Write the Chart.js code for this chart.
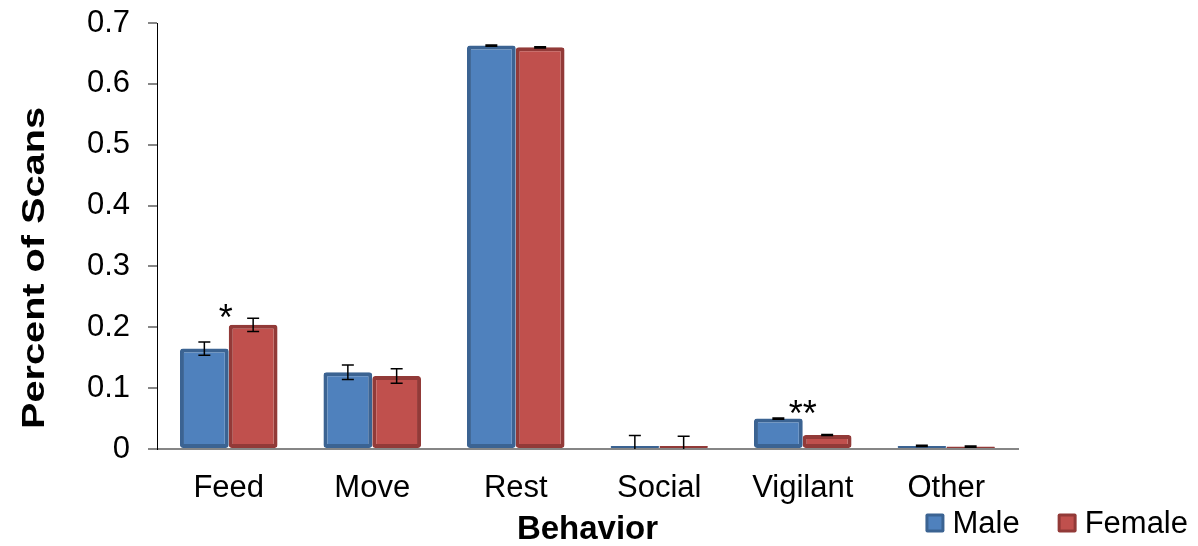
<!DOCTYPE html>
<html>
<head>
<meta charset="utf-8">
<script src="https://cdn.jsdelivr.net/npm/chart.js@4.4.1/dist/chart.umd.min.js"></script>
<style>
  html, body { margin: 0; padding: 0; background: #ffffff; }
  #wrap { width: 1198px; height: 546px; position: relative; }
</style>
</head>
<body>
<div id="wrap"><canvas id="c" width="1198" height="546"></canvas></div>
<script>
// ---- Data ----
const categories = ['Feed', 'Move', 'Rest', 'Social', 'Vigilant', 'Other'];
const seriesNames = ['Male', 'Female'];
const maleValues = [0.165, 0.126, 0.663, 0.005, 0.050, 0.005];
const femaleValues = [0.204, 0.120, 0.660, 0.005, 0.023, 0.004];
const maleErrors = [0.011, 0.012, 0.001, 0.017, 0.001, 0.001];
const femaleErrors = [0.011, 0.012, 0.001, 0.016, 0.001, 0.001];
const significance = ['*', '', '', '', '**', ''];
const yTicks = [0, 0.1, 0.2, 0.3, 0.4, 0.5, 0.6, 0.7];
const xTitle = 'Behavior';
const yTitle = 'Percent of Scans';

const FONT = '"Liberation Sans", Arial, sans-serif';
const fills = ['#4F81BD', '#C0504D'];
const borders = ['#3B6392', '#923A38'];
const errorSets = [maleErrors, femaleErrors];

// Error bars and significance marks drawn from the data through the library's scales
const errorBarPlugin = {
  id: 'errorBars',
  afterDatasetsDraw(chart) {
    const ctx = chart.ctx;
    const y = chart.scales.y;
    ctx.save();
    ctx.strokeStyle = '#000000';
    ctx.lineWidth = 1.5;
    chart.data.datasets.forEach((ds, di) => {
      const meta = chart.getDatasetMeta(di);
      meta.data.forEach((bar, i) => {
        const v = ds.data[i];
        const e = errorSets[di][i];
        const x = bar.x;
        const top = y.getPixelForValue(v + e);
        const bot = y.getPixelForValue(Math.max(v - e, 0));
        const cap = 6;
        ctx.beginPath();
        ctx.moveTo(x, top); ctx.lineTo(x, bot);
        ctx.moveTo(x - cap, top); ctx.lineTo(x + cap, top);
        if (v - e > 0) { ctx.moveTo(x - cap, bot); ctx.lineTo(x + cap, bot); }
        ctx.stroke();
      });
    });
    ctx.fillStyle = '#000000';
    ctx.font = '36px ' + FONT;
    ctx.textAlign = 'center';
    ctx.textBaseline = 'alphabetic';
    significance.forEach((s, i) => {
      if (!s) return;
      const xs = chart.scales.x.getPixelForValue(i);
      let m = 0;
      chart.data.datasets.forEach((ds, di) => { m = Math.max(m, ds.data[i] + errorSets[di][i]); });
      const py = y.getPixelForValue(m);
      ctx.fillText(s, xs - 3 + (i === 4 ? 3 : 0), py + (i === 4 ? 8 : 12));
    });
    ctx.restore();
  }
};

// Y axis title (rotated, widened like the original) and corner legend
const decorPlugin = {
  id: 'decor',
  afterDraw(chart) {
    const ctx = chart.ctx;
    const area = chart.chartArea;
    ctx.save();
    ctx.translate(35, (area.top + area.bottom) / 2 + 32);
    ctx.rotate(-Math.PI / 2);
    ctx.scale(1.24, 1);
    ctx.font = 'bold 32px ' + FONT;
    ctx.fillStyle = '#000000';
    ctx.textAlign = 'center';
    ctx.textBaseline = 'middle';
    ctx.fillText(yTitle, 0, 0);
    ctx.restore();

    ctx.save();
    ctx.font = '31px ' + FONT;
    ctx.textBaseline = 'middle';
    ctx.textAlign = 'left';
    const yc = 523;
    const box = 19;
    const gap = 8;
    const itemGap = 38;
    const widths = chart.data.datasets.map(ds => ctx.measureText(ds.label).width);
    let total = 0;
    widths.forEach((w, i) => { total += box + gap + w + (i > 0 ? itemGap : 0); });
    let x = chart.width - 10 - total;
    chart.data.datasets.forEach((ds, i) => {
      if (i > 0) x += itemGap;
      ctx.fillStyle = ds.borderColor;
      ctx.beginPath();
      ctx.roundRect(x, yc - box / 2, box, box, 2);
      ctx.fill();
      ctx.fillStyle = ds.backgroundColor;
      ctx.fillRect(x + 3, yc - box / 2 + 3, box - 6, box - 6);
      x += box + gap;
      ctx.fillStyle = '#000000';
      ctx.fillText(ds.label, x, yc + 1);
      x += widths[i];
    });
    ctx.restore();
  }
};

new Chart(document.getElementById('c'), {
  type: 'bar',
  data: {
    labels: categories,
    datasets: [
      { label: seriesNames[0], data: maleValues, backgroundColor: fills[0], borderColor: borders[0] },
      { label: seriesNames[1], data: femaleValues, backgroundColor: fills[1], borderColor: borders[1] }
    ]
  },
  options: {
    responsive: false,
    animation: false,
    devicePixelRatio: 1,
    layout: { padding: { left: 0, right: 180, top: 23, bottom: 0 } },
    datasets: {
      bar: {
        borderWidth: 4,
        borderRadius: 3,
        borderSkipped: false,
        barPercentage: 1.0,
        categoryPercentage: 0.68
      }
    },
    plugins: {
      legend: { display: false },
      tooltip: { enabled: false }
    },
    scales: {
      x: {
        afterFit(scale) { scale.height = 97; scale.paddingLeft = 0; scale.paddingRight = 0; },
        grid: { display: false },
        border: { color: '#868686', width: 2 },
        ticks: { color: '#000000', font: { family: FONT, size: 31 }, padding: 13, maxRotation: 0 },
        title: { display: true, text: xTitle, color: '#000000', font: { family: FONT, size: 33, weight: 'bold', lineHeight: 1.1 }, padding: { top: 0, bottom: -2 } }
      },
      y: {
        min: 0,
        max: 0.7,
        afterBuildTicks(axis) { axis.ticks = yTicks.map(v => ({ value: v })); },
        afterFit(scale) { scale.width = 157; scale.paddingTop = 0; scale.paddingBottom = 0; },
        grid: { drawOnChartArea: false, drawTicks: true, tickLength: 9, color: '#868686', lineWidth: 2 },
        border: { color: '#000000', width: 1 },
        ticks: {
          color: '#000000',
          font: { family: FONT, size: 31 },
          padding: 18,
          callback: v => (v === 0 ? '0' : v.toFixed(1))
        },
        title: { display: false }
      }
    }
  },
  plugins: [errorBarPlugin, decorPlugin]
});
</script>
</body>
</html>
